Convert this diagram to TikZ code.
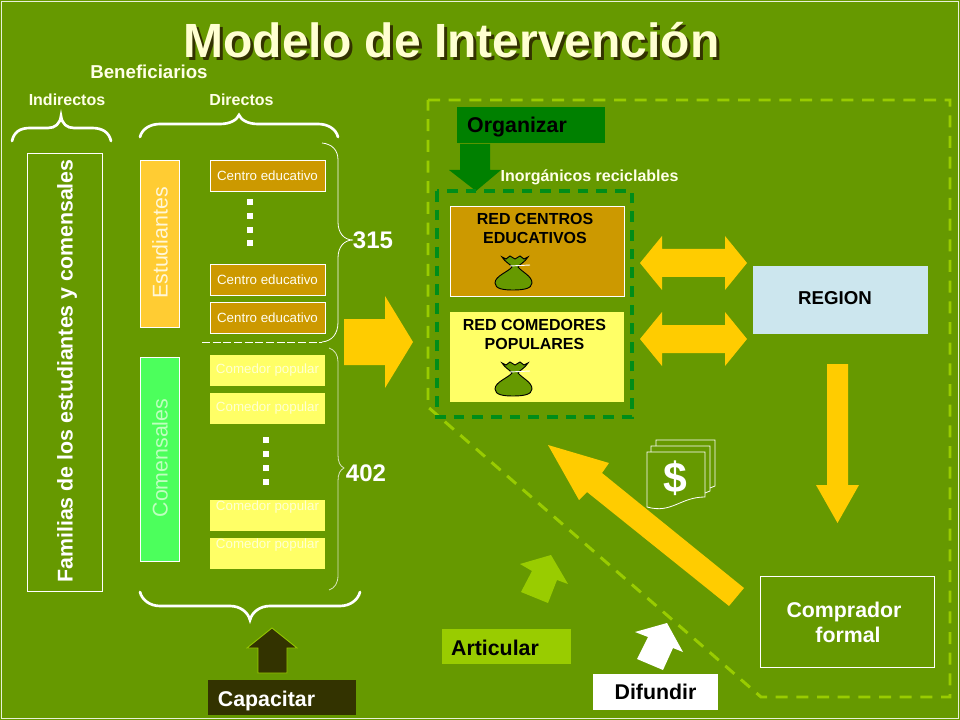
\documentclass[tikz,border=0pt]{standalone}
\usepackage{fontspec}
\setmainfont{Liberation Sans}
\usepackage{tikz}
\usetikzlibrary{arrows.meta,positioning,calc}

\definecolor{fondo}{HTML}{669900}
\definecolor{oro}{HTML}{FFCC00}
\definecolor{ocre}{HTML}{CC9900}
\definecolor{crema}{HTML}{FFFF66}
\definecolor{lima}{HTML}{99CC00}
\definecolor{verde}{HTML}{008000}
\definecolor{oscuro}{HTML}{333300}
\definecolor{naranja}{HTML}{FFCC33}
\definecolor{menta}{HTML}{4CFF5C}
\definecolor{celeste}{HTML}{CCE6EE}

\tikzset{
  centrobox/.style={draw=white, line width=0.6pt, fill=ocre, text=white!95!yellow, inner sep=0pt,
    minimum width=86.25pt, minimum height=23.25pt, font=\fontsize{10}{12}\selectfont},
  comedorbox/.style={fill=crema, text=white!70!crema, inner sep=0pt,
    minimum width=86.25pt, minimum height=23.25pt, font=\fontsize{10}{12}\selectfont},
  comedortext/.style={text=white!70!crema, inner sep=0pt, font=\fontsize{10}{12}\selectfont},
  redbox/.style={inner sep=0pt, minimum width=130.5pt, minimum height=67.5pt},
  redtext/.style={inner sep=0pt, align=center, text=black, font=\bfseries\fontsize{12}{14.25}\selectfont},
  tagtext/.style={text=white!85!crema, inner sep=0pt, font=\bfseries\fontsize{12}{14}\selectfont},
  bigtext/.style={inner sep=0pt, font=\bfseries\fontsize{16}{19}\selectfont},
  numtext/.style={text=white, inner sep=0pt, font=\bfseries\fontsize{18}{20}\selectfont},
  sidebox/.style={draw=white, line width=0.6pt, inner sep=0pt, minimum width=29.25pt},
  brace/.style={draw=white, line width=2pt, line cap=round},
  thinbrace/.style={draw=white, line width=0.6pt},
  sheet/.style={draw=white, line width=0.6pt},
}

% sack with its white tie
\newcommand{\bolsa}[2]{
  \begin{scope}[shift={(#1,#2)}]
    \draw[fill=fondo, line width=0.7pt] (502,257) -- (506,259) -- (510,256) -- (515,259) -- (520,256) -- (524,259) -- (528,257)
      .. controls (525,262) and (520,264) .. (518,267) .. controls (522,272) and (532,276) .. (532,283)
      .. controls (532,289) and (522,290) .. (513,290) .. controls (504,290) and (495,289) .. (495,283)
      .. controls (495,276) and (508,272) .. (512,267) .. controls (510,264) and (505,262) .. (502,257) -- cycle;
    \draw[white, line width=0.7pt] (510,266) -- (530,265);
  \end{scope}
}

\begin{document}
\begin{tikzpicture}[x=0.75pt,y=-0.75pt]
    \useasboundingbox (0,0) rectangle (960,720);
    \fill[fondo] (0,0) rectangle (960,720);
    \draw[white!85!fondo, line width=1pt] (1.5,1.5) rectangle (958.5,718.5);

    % Title and upper labels
    \node[text=oscuro, inner sep=0pt, font=\bfseries\fontsize{36}{40}\selectfont] (sombra) at (454.5,43.5) {Modelo de Intervención};
    \node[text=white!70!crema, inner sep=0pt, font=\bfseries\fontsize{36}{40}\selectfont] (titulo) at (451.5,40.5) {Modelo de Intervención};
    \node[text=white!85!crema, inner sep=0pt, font=\bfseries\fontsize{14}{16}\selectfont] (benef) at (149,72) {Beneficiarios};
    \node[tagtext] (indir) at (67,99.5) {Indirectos};
    \node[tagtext] (direc) at (241.5,99.5) {Directos};

    % Curly braces
    \draw[brace] (12,141) .. controls (14,132) and (20,128) .. (30,128) -- (48,128) .. controls (55,128) and (60,124) .. (61,116)
      .. controls (62,124) and (67,128) .. (74,128) -- (92,128) .. controls (102,128) and (109,132) .. (111,141);
    \draw[brace] (140,137) .. controls (142,129) and (150,124) .. (160,124) -- (220,124) .. controls (230,124) and (237,120) .. (239,115)
      .. controls (241,120) and (248,124) .. (258,124) -- (318,124) .. controls (328,124) and (336,129) .. (338,137);
    \draw[brace] (140,592) .. controls (142,600) and (150,606) .. (160,606) -- (230,606) .. controls (240,606) and (248,612) .. (250,620)
      .. controls (252,612) and (260,606) .. (270,606) -- (340,606) .. controls (350,606) and (358,600) .. (360,592);

    % Indirect and direct beneficiaries
    \node[draw=white, line width=0.6pt, inner sep=0pt, minimum width=56.25pt, minimum height=328.5pt] (familias) at (64.5,372) {};
    \node[text=white, rotate=90, inner sep=0pt, font=\bfseries\fontsize{16}{19}\selectfont] (famtext) at (67,371) {Familias de los estudiantes y comensales};
    \node[sidebox, fill=naranja, minimum height=125.25pt] (estud) at (159.5,243.5) {};
    \node[text=white!85!oro, rotate=90, inner sep=0pt, font=\fontsize{16}{19}\selectfont] (estext) at (160,243) {Estudiantes};
    \node[sidebox, fill=menta, minimum height=153pt] (comen) at (159.5,459) {};
    \node[text=white!75!green, rotate=90, inner sep=0pt, font=\fontsize{16}{19}\selectfont] (cotext) at (160,458) {Comensales};

    \node[centrobox] (cen1) at (267.5,175.5) {Centro educativo};
    \node[centrobox] (cen2) at (267.5,279.5) {Centro educativo};
    \node[centrobox] (cen3) at (267.5,317.5) {Centro educativo};
    \foreach \y in {202,216,230,243}
        \fill[white] (250,\y) +(-3,-3) rectangle +(3,3);

    \node[comedorbox] (com1) at (267.5,370.5) {Comedor popular};
    \node[comedorbox] (com2) at (267.5,408.5) {Comedor popular};
    \node[comedorbox] (com3) at (267.5,515.5) {};
    \node[comedorbox] (com4) at (267.5,553.5) {};
    \node[comedortext] (com3t) at (267.5,507) {Comedor popular};
    \node[comedortext] (com4t) at (267.5,545) {Comedor popular};
    \foreach \y in {440,454,468,482}
        \fill[white] (266,\y) +(-3,-3) rectangle +(3,3);

    % Thin braces with totals
    \draw[thinbrace] (322,143) .. controls (332,144) and (338,150) .. (338,160) -- (338,222)
      .. controls (338,233) and (344,240) .. (353,240) .. controls (344,240) and (338,247) .. (338,258) -- (338,322)
      .. controls (338,334) and (332,341) .. (322,342);
    \draw[white, line width=0.6pt, dash pattern=on 6pt off 2pt] (202,342) -- (322,342);
    \draw[thinbrace, white!75!fondo] (329,348) .. controls (335,350) and (338,355) .. (338,362) -- (338,455)
      .. controls (338,462) and (340,466) .. (344,468) .. controls (340,470) and (338,474) .. (338,481) -- (338,575)
      .. controls (338,583) and (335,588) .. (329,590);
    \node[numtext] (tot1) at (373,240) {315};
    \node[numtext] (tot2) at (366,473) {402};

    % Large arrow to the network
    \fill[oro] (344,319) -- (385,319) -- (385,296) -- (413,342) -- (385,388) -- (385,365) -- (344,365) -- cycle;

    % Dashed intervention area
    \draw[lima, line width=2.2pt, dash pattern=on 9pt off 6.5pt] (428,100) -- (950,100) -- (950,697) -- (761,697) -- (428,407) -- cycle;

    % Organizar
    \node[fill=verde, minimum width=111pt, minimum height=27pt, inner sep=0pt] (orgbox) at (531,125) {};
    \node[bigtext, text=black] (orgtext) at (517,127) {Organizar};
    \fill[verde] (460,144) -- (490,144) -- (490,170) -- (501,170) -- (476,191) -- (449,170) -- (460,170) -- cycle;
    \node[tagtext] (inorg) at (589.5,177) {Inorgánicos reciclables};

    % Network boxes
    \draw[verde!90!cyan, line width=2.5pt, dash pattern=on 8pt off 6pt] (437,191) rectangle (632,417);
    \node[redbox, draw=white, line width=0.6pt, fill=ocre] (redcen) at (537,251) {};
    \node[redbox, fill=crema] (redcom) at (537,357) {};
    \node[redtext] (redcent) at (535,228.5) {RED CENTROS\\EDUCATIVOS};
    \node[redtext] (redcomt) at (534.5,334.5) {RED COMEDORES\\POPULARES};
    \bolsa{0}{0}
    \bolsa{0}{106}

    % Exchange with the region
    \foreach \y in {263,339}
        \fill[oro] (640,\y) -- (662,\y-27) -- (662,\y-14) -- (725,\y-14) -- (725,\y-27) -- (747,\y) -- (725,\y+27) -- (725,\y+14) -- (662,\y+14) -- (662,\y+27) -- cycle;
    \node[fill=celeste, minimum width=131.25pt, minimum height=51pt, inner sep=0pt] (region) at (840.5,300) {};
    \node[inner sep=0pt, font=\bfseries\fontsize{14}{16}\selectfont] (regtext) at (835,298) {REGION};
    \fill[oro] (827,364) -- (848,364) -- (848,485) -- (859,485) -- (837.5,523) -- (816,485) -- (827,485) -- cycle;

    % Buyer
    \node[draw=white, line width=0.6pt, minimum width=130.5pt, minimum height=68.25pt, inner sep=0pt] (comprador) at (847,621.5) {};
    \node[bigtext, text=white, align=center] (comtext) at (844,622.5) {Comprador\\\hspace*{6pt}formal};

    % Payment going back
    \fill[oro] (744,588) -- (729,606) -- (587,492) -- (579,500) -- (548,445) -- (609,463) -- (602,473) -- cycle;
    \draw[sheet] (656,446) -- (656,440) -- (715,440) -- (715,486) -- (710,488);
    \draw[sheet] (651,452) -- (651,446) -- (710,446) -- (710,491) -- (705,493);
    \draw[sheet] (647,452) -- (705,452) -- (705,497) .. controls (680,497) and (672,514) .. (647,507) -- cycle;
    \node[text=white, inner sep=0pt, font=\bfseries\fontsize{32}{36}\selectfont] (dolar) at (675,478) {\$};

    % Articular, Difundir, Capacitar
    \fill[lima] (551,555) -- (520,564) -- (532,571) -- (521,592) -- (548,603) -- (557,580) -- (568,584) -- cycle;
    \node[fill=lima, minimum width=96.75pt, minimum height=26.25pt, inner sep=0pt] (artbox) at (506.5,646.5) {};
    \node[bigtext, text=black] (arttext) at (495,648) {Articular};
    \fill[white] (667,623) -- (635,632) -- (648,637) -- (637,659) -- (663,670) -- (673,648) -- (683,652) -- cycle;
    \node[fill=white, minimum width=93.75pt, minimum height=27pt, inner sep=0pt, bigtext, text=black] (difbox) at (655.5,692) {Difundir};
    \draw[lima, fill=oscuro, line width=0.6pt] (272,628) -- (297,648) -- (287,648) -- (287,673) -- (258,673) -- (258,648) -- (247,648) -- cycle;
    \node[fill=oscuro, minimum width=111pt, minimum height=26.25pt, inner sep=0pt] (capbox) at (282,697.5) {};
    \node[bigtext, text=white] (captext) at (266.5,701) {Capacitar};
\end{tikzpicture}
\end{document}
